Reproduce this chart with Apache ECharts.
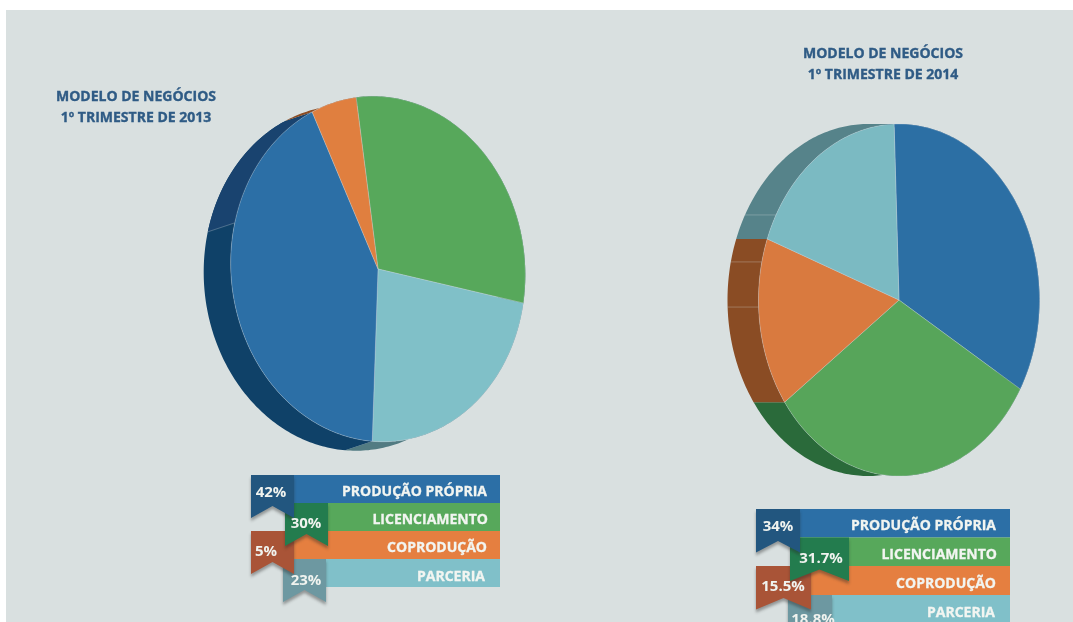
<!DOCTYPE html>
<html lang="pt">
<head>
<meta charset="utf-8">
<title>Modelo de negócios</title>
<style>
  html, body { margin: 0; padding: 0; background: #ffffff; overflow: hidden; }
  #chart { width: 1073px; height: 622px; }
</style>
<script src="https://cdn.jsdelivr.net/npm/echarts@6/dist/echarts.min.js"></script>
</head>
<body>
<div id="chart"></div>
<script>
// Business-model share by quarter, legend order.
const categories = ['PRODUÇÃO PRÓPRIA', 'LICENCIAMENTO', 'COPRODUÇÃO', 'PARCERIA'];
const values2013 = [42, 30, 5, 23];
const values2014 = [34, 31.7, 15.5, 18.8];
const titles2013 = ['MODELO DE NEGÓCIOS', '1º TRIMESTRE DE 2013'];
const titles2014 = ['MODELO DE NEGÓCIOS', '1º TRIMESTRE DE 2014'];

// Clockwise slice order around each pie, as indexes into categories.
const sliceOrder2013 = [1, 3, 0, 2];
const sliceOrder2014 = [0, 1, 2, 3];

const FONT = '"Open Sans", "Noto Sans", sans-serif';
const barColors = ['#2c6fa6', '#57a85b', '#e57f40', '#80c0c9'];
const ribbonColors = ['#22567f', '#237c4e', '#a95437', '#6d98a1'];

// Each pie is a tilted ellipse with an extruded rim behind it.
const pie2013 = {
  values: values2013, order: sliceOrder2013,
  cx: 378, cy: 269, a: 147, b: 173, tilt: 6, depthX: -27, depthY: 9, start: -1.5,
  face: ['#2c6fa6', '#57a85b', '#e07f3f', '#80c0c8'],
  rim: ['#0f4168', '#1f5f3a', '#8a4c24', '#527b82'],
  shade: { from: 290.6, to: 339.5, color: '#19436f' },
  seams: [290.6]
};
const pie2014 = {
  values: values2014, order: sliceOrder2014,
  cx: 899, cy: 300, a: 140.5, b: 176, tilt: 0, depthX: -31, depthY: 0, start: -2,
  face: ['#2c6fa4', '#57a55a', '#d97a3f', '#7bbac2'],
  rim: ['#1a4f78', '#2a6a3a', '#8a4c24', '#56838a'],
  shade: null,
  seams: [267.7, 282.5, 298.9]
};

// Position on a pie's face for a clockwise angle measured from its top.
function facePoint(p, deg, dx, dy) {
  const t = deg * Math.PI / 180, r = p.tilt * Math.PI / 180;
  const u = p.a * Math.sin(t), v = p.b * Math.cos(t);
  return [
    p.cx + u * Math.cos(r) - v * Math.sin(r) + (dx || 0),
    p.cy - u * Math.sin(r) - v * Math.cos(r) + (dy || 0)
  ];
}
function arc(p, from, to, dx, dy) {
  const n = Math.max(2, Math.ceil(Math.abs(to - from)));
  const pts = [];
  for (let i = 0; i <= n; i++) pts.push(facePoint(p, from + (to - from) * i / n, dx, dy));
  return pts;
}
function rimPolygon(p, from, to) {
  return arc(p, from, to).concat(arc(p, to, from, p.depthX, p.depthY));
}

// Slice rows: [start angle, end angle, category index], built from the values.
function sliceRows(p) {
  const total = p.values.reduce((s, v) => s + v, 0);
  let at = p.start;
  return p.order.map(i => {
    const from = at;
    at += p.values[i] / total * 360;
    return [from, at, i];
  });
}

function rimSeries(p) {
  return {
    type: 'custom', coordinateSystem: 'none', silent: true, z: 1,
    data: sliceRows(p),
    renderItem(params, api) {
      const from = api.value(0), to = api.value(1), i = api.value(2);
      const children = [{
        type: 'polygon',
        shape: { points: rimPolygon(p, from, to) },
        style: { fill: p.rim[i] }
      }];
      if (p.shade && p.shade.from >= from && p.shade.to <= to + 1) {
        children.push({
          type: 'polygon',
          shape: { points: rimPolygon(p, p.shade.from, Math.min(p.shade.to, to)) },
          style: { fill: p.shade.color }
        });
      }
      return { type: 'group', children };
    }
  };
}

function seamSeries(p) {
  return {
    type: 'custom', coordinateSystem: 'none', silent: true, z: 2,
    data: p.seams.map(d => [d]),
    renderItem(params, api) {
      const d = api.value(0);
      const a = facePoint(p, d), b = facePoint(p, d, p.depthX, p.depthY);
      return {
        type: 'line',
        shape: { x1: a[0], y1: a[1], x2: b[0], y2: b[1] },
        style: { stroke: 'rgba(214,222,222,0.3)', lineWidth: 1 }
      };
    }
  };
}

function faceSeries(p) {
  return {
    type: 'custom', coordinateSystem: 'none', silent: true, z: 3,
    data: sliceRows(p),
    renderItem(params, api) {
      const pts = [[p.cx, p.cy]].concat(arc(p, api.value(0), api.value(1)));
      return {
        type: 'polygon',
        shape: { points: pts },
        style: { fill: p.face[api.value(2)], stroke: 'rgba(205,215,222,0.45)', lineWidth: 0.7 }
      };
    }
  };
}

function titleGraphics(lines, cx, y0) {
  return lines.map((text, k) => ({
    type: 'text', z: 5, silent: true,
    style: {
      text, x: cx, y: y0 + k * 21, align: 'center', verticalAlign: 'middle',
      font: '700 14px ' + FONT, fill: '#2f5b85', stroke: '#2f5b85', lineWidth: 0.35
    }
  }));
}

// Legend block: stacked colour bars with a ribbon carrying each percentage.
function legendGraphics(cfg) {
  const out = [];
  categories.forEach((name, i) => {
    const top = cfg.rowTops[i], bottom = cfg.rowTops[i + 1];
    out.push({
      type: 'rect', z: 4, silent: true,
      shape: { x: cfg.barLeft, y: top, width: cfg.barRight - cfg.barLeft, height: bottom - top },
      style: { fill: barColors[i] }
    });
    out.push({
      type: 'text', z: 6, silent: true,
      style: {
        text: name, x: cfg.textRight[i], y: cfg.textY[i], align: 'right', verticalAlign: 'middle',
        font: '700 14px ' + FONT, fill: '#f2f5f1', stroke: '#f2f5f1', lineWidth: 0.3
      }
    });
  });
  // Lower ribbons go first so each one sits beneath the ribbon above it.
  [3, 2, 1, 0].forEach((i, k) => {
    const r = cfg.ribbons[i];
    const top = cfg.rowTops[i];
    const pts = [
      [r.left, top], [r.right, top], [r.right, top + cfg.tail],
      [(r.left + r.right) / 2, top + cfg.notch], [r.left, top + cfg.tail]
    ];
    out.push({
      type: 'polygon', z: 5, z2: k, silent: true,
      shape: { points: pts },
      style: {
        fill: ribbonColors[i],
        shadowBlur: 3, shadowColor: 'rgba(40,40,40,0.4)', shadowOffsetX: 0, shadowOffsetY: 3
      }
    });
    out.push({
      type: 'text', z: 6, silent: true,
      style: {
        text: cfg.values[i] + '%', x: r.textX, y: r.textY, align: 'center', verticalAlign: 'middle',
        font: '700 15px ' + FONT, fill: '#f0f3ef'
      }
    });
  });
  return out;
}

const legend2013 = {
  values: values2013,
  barLeft: 294, barRight: 500,
  rowTops: [475, 503, 531, 559, 587],
  tail: 43, notch: 31,
  textRight: [487, 488, 487, 485],
  textY: [492, 520, 548, 577],
  ribbons: [
    { left: 251, right: 294, textX: 271, textY: 493 },
    { left: 285, right: 328, textX: 306, textY: 524 },
    { left: 251, right: 294, textX: 266, textY: 552 },
    { left: 283, right: 326, textX: 306, textY: 581 }
  ]
};
const legend2014 = {
  values: values2014,
  barLeft: 800, barRight: 1010,
  rowTops: [509, 537.5, 566, 595, 624],
  tail: 43.5, notch: 32,
  textRight: [996, 997, 996, 995],
  textY: [526, 555, 584, 613],
  ribbons: [
    { left: 756, right: 800, textX: 778, textY: 527 },
    { left: 790, right: 849, textX: 821, textY: 559 },
    { left: 756, right: 811, textX: 783, textY: 587 },
    { left: 788, right: 832, textX: 813, textY: 620 }
  ]
};

const chart = echarts.init(document.getElementById('chart'), null, { renderer: 'canvas' });
chart.setOption({
  animation: false,
  backgroundColor: '#ffffff',
  graphic: [{
    type: 'rect', z: 0, silent: true,
    shape: { x: 6, y: 10, width: 1067, height: 612 },
    style: { fill: '#d9e0e0' }
  }]
    .concat(titleGraphics(titles2013, 136, 97))
    .concat(titleGraphics(titles2014, 883, 54))
    .concat(legendGraphics(legend2013))
    .concat(legendGraphics(legend2014)),
  series: [pie2013, pie2014].flatMap(p => [rimSeries(p), seamSeries(p), faceSeries(p)])
});
</script>
</body>
</html>
